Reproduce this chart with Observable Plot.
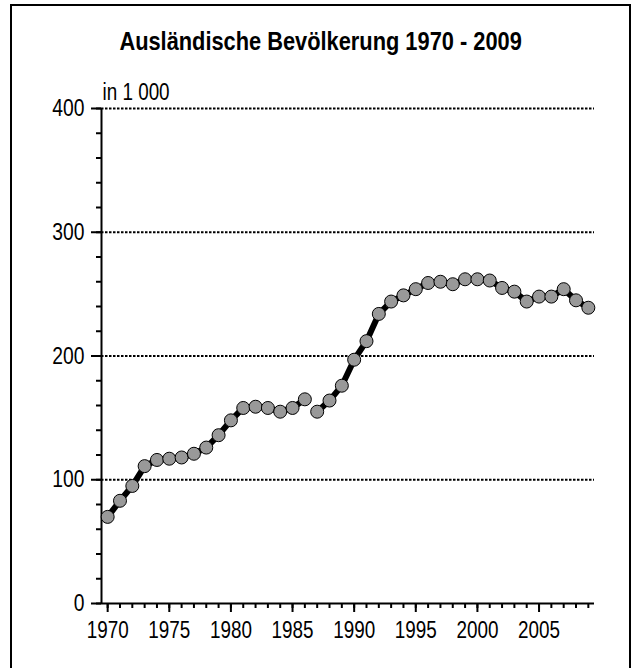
<!DOCTYPE html>
<html>
<head>
<meta charset="utf-8">
<script src="https://cdn.jsdelivr.net/npm/d3@7"></script>
<script src="https://cdn.jsdelivr.net/npm/@observablehq/plot@0.6"></script>
<style>
  html, body { margin: 0; padding: 0; background: #fff; }
  #wrap { position: relative; width: 636px; height: 668px; overflow: hidden;
          font-family: "Liberation Sans Narrow", "Arial Narrow", "Liberation Sans", sans-serif; }
  #frame { position: absolute; left: 10px; top: 4px; width: 617px; height: 700px;
           border: 2px solid #000; }
  #title { position: absolute; left: 12px; width: 617px; top: 28px; text-align: center;
           font-weight: bold; font-size: 26.6px; line-height: 27px; color: #000;
           transform: scaleX(0.82); transform-origin: 309px 0; white-space: nowrap; }
  #chart { position: absolute; left: 0; top: 0; }
</style>
</head>
<body>
<div id="wrap">
  <div id="frame"></div>
  <div id="title"></div>
  <div id="chart"></div>
</div>
<script>
const titleText = "Ausländische Bevölkerung 1970 - 2009";
const yUnit = "in 1 000";

const years = [1970, 1971, 1972, 1973, 1974, 1975, 1976, 1977, 1978, 1979,
               1980, 1981, 1982, 1983, 1984, 1985, 1986, 1987, 1988, 1989,
               1990, 1991, 1992, 1993, 1994, 1995, 1996, 1997, 1998, 1999,
               2000, 2001, 2002, 2003, 2004, 2005, 2006, 2007, 2008, 2009];
const values = [70, 83, 95, 111, 116, 117, 118, 121, 126, 136,
                148, 158, 159, 158, 155, 158, 165, 155, 164, 176,
                197, 212, 234, 244, 249, 254, 259, 260, 258, 262,
                262, 261, 255, 252, 244, 248, 248, 254, 245, 239];
// the line is interrupted between these two series segments (break in the statistic)
const breakYear = 1987;

const yMajorTicks = [0, 100, 200, 300, 400];
const yMinorTicks = [0, 20, 40, 60, 80, 100, 120, 140, 160, 180, 200, 220, 240, 260, 280, 300, 320, 340, 360, 380, 400];
const gridValues = [100, 200, 300, 400];
const xMajorTicks = [1970, 1975, 1980, 1985, 1990, 1995, 2000, 2005];
const xDomain = [1969.5, 2009.5];
const yDomain = [0, 400];

const data = years.map((year, i) => ({
  year, value: values[i], segment: year < breakYear ? "A" : "B"
}));

const FONT = '"Liberation Sans Narrow", "Arial Narrow", "Liberation Sans", sans-serif';
const NARROW = 0.82; // horizontal condensing to imitate a narrow typeface

document.getElementById("title").textContent = titleText;

const chart = Plot.plot({
  width: 636,
  height: 668,
  marginLeft: 101,
  marginRight: 42,
  marginTop: 108,
  marginBottom: 65,
  x: { domain: xDomain },
  y: { domain: yDomain },
  style: { fontFamily: FONT, fontSize: "23px", color: "#000", background: "transparent", overflow: "visible" },
  marks: [
    Plot.ruleY(gridValues, { stroke: "#000", strokeWidth: 2, strokeDasharray: "2.5,1.5" }),
    Plot.axisY({ ticks: yMinorTicks, tickSize: 5, tickFormat: () => "", strokeWidth: 2, label: null }),
    Plot.axisY({ ticks: yMajorTicks, tickSize: 10, tickPadding: 7, strokeWidth: 2, label: null, fontSize: 23.5, tickFormat: d => String(d) }),
    Plot.axisX({ ticks: years, tickSize: 5, tickFormat: () => "", strokeWidth: 2, label: null }),
    Plot.axisX({ ticks: xMajorTicks, tickSize: 9, tickPadding: 9, strokeWidth: 2, label: null, fontSize: 23, tickFormat: d => String(d) }),
    Plot.ruleX([xDomain[0]], { stroke: "#000", strokeWidth: 2 }),
    Plot.ruleY([yDomain[0]], { stroke: "#000", strokeWidth: 2 }),
    Plot.line(data, { x: "year", y: "value", z: "segment", stroke: "#000", strokeWidth: 6, strokeLinejoin: "round" }),
    Plot.dot(data, { x: "year", y: "value", r: 6.5, fill: "#999999", stroke: "#000", strokeWidth: 1 }),
    Plot.text([yUnit], { frameAnchor: "top-left", textAnchor: "start", lineAnchor: "bottom", dx: 1, dy: -9, fontSize: 23 })
  ]
});
document.getElementById("chart").appendChild(chart);

// condense all svg texts horizontally
chart.querySelectorAll("text").forEach(t => {
  const len = t.getComputedTextLength();
  if (len > 0) {
    t.setAttribute("textLength", (len * NARROW).toFixed(2));
    t.setAttribute("lengthAdjust", "spacingAndGlyphs");
  }
});
</script>
</body>
</html>
